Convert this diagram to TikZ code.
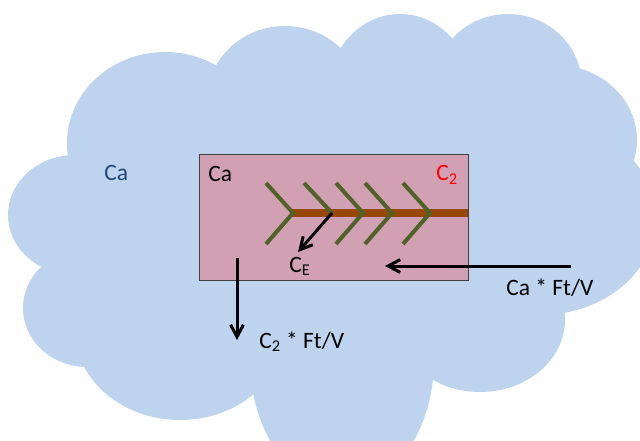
\documentclass[tikz,border=0pt]{standalone}
\usepackage{fontspec}
\setmainfont{Carlito}
\usetikzlibrary{arrows.meta,positioning}
\definecolor{cloudblue}{RGB}{190,212,238}
\definecolor{tankpink}{RGB}{209,160,178}
\definecolor{fibregreen}{RGB}{79,98,40}
\definecolor{tubebrown}{RGB}{152,72,6}
\definecolor{labelblue}{RGB}{31,73,125}

\begin{document}
\begin{tikzpicture}[
    x=0.025cm,y=-0.025cm,
    lbl/.style={inner sep=0pt,anchor=base west,font=\fontsize{16.7}{20}\selectfont},
    flow/.style={line width=0.075cm,-{Straight Barb[length=0.3cm,width=0.32cm]}},
    fibre/.style={draw=fibregreen,line width=0.1cm},
]
    \useasboundingbox (0,0) rectangle (640,441);
    \clip (0,0) rectangle (640,441);

    % cloud
    \fill[cloudblue] (165,143) -- (285,100) -- (400,90) -- (508,86) -- (555,140) -- (540,218)
        -- (480,320) -- (342,360) -- (180,330) -- (87,308) -- (75,215) -- cycle;
    \foreach \cx/\cy/\rx/\ry in {165/143/98/91,285/100/78/74,400/90/71/76,508/86/74/72,
        555/140/82/75,540/218/116/97,480/320/85/72,342/360/92/129,180/330/105/90,
        87/308/64/59,75/215/67/60}
        \fill[cloudblue] (\cx,\cy) ellipse [x radius=\rx*0.025cm,y radius=\ry*0.025cm];

    \node[lbl,text=labelblue] (caout) at (104,180) {Ca};

    % tank
    \node[draw=black!75,line width=0.6pt,fill=tankpink,anchor=north west,inner sep=0pt,
        minimum width=6.725cm,minimum height=3.15cm] (tank) at (199,154) {};
    \node[lbl] (cain) at (208,181) {Ca};
    \node[lbl,text=red] (ctwo) at (436,180.5) {C\textsubscript{2}};

    % membrane
    \draw[tubebrown,line width=0.19cm] (290,213) -- (468,213);
    \foreach \vx in {293,363,392,430}
        \draw[fibre] (\vx-27,183) -- (\vx,213) -- (\vx-27,244);
    \coordinate (v2) at (332,213);
    \draw[fibre] (304,183) -- (v2);
    \coordinate (ceend) at (298,252);
    \draw[flow] (v2) -- (ceend);
    \node[lbl] (ce) at (289,272) {C\textsubscript{E}};

    % flows
    \coordinate (inA) at (571,266);
    \coordinate (inB) at (385,266);
    \draw[flow] (inA) -- (inB);
    \node[lbl] (inlbl) at (506,295) {Ca * Ft/V};

    \coordinate (outA) at (237,258);
    \coordinate (outB) at (237,340);
    \draw[flow] (outA) -- (outB);
    \node[lbl] (outlbl) at (259,348) {C\textsubscript{2} * Ft/V};
\end{tikzpicture}
\end{document}
